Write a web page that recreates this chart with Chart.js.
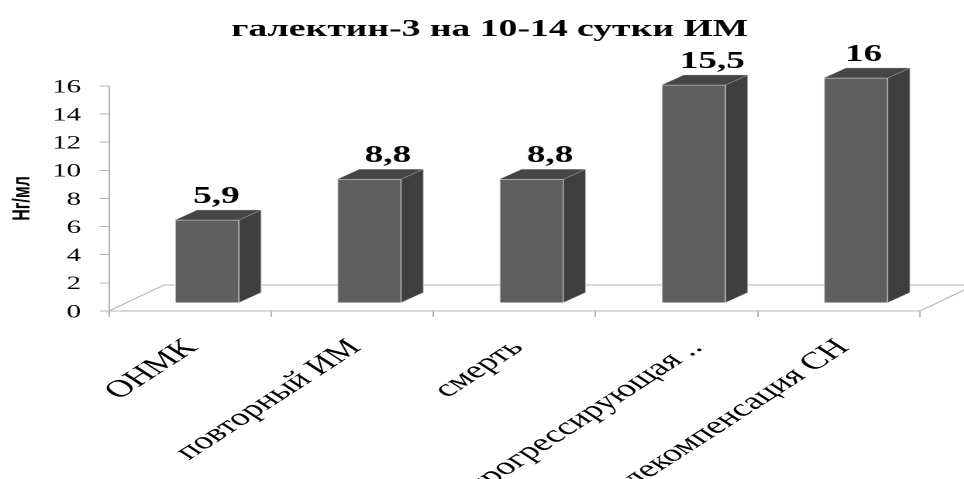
<!DOCTYPE html>
<html lang="ru">
<head>
<meta charset="utf-8">
<title>галектин-3 на 10-14 сутки ИМ</title>
<script src="https://cdn.jsdelivr.net/npm/chart.js@4"></script>
<style>
    html, body { margin: 0; padding: 0; background: #fff; overflow: hidden; }
    /* the whole chart is wide-stretched, type included */
    #galectinChart { display: block; transform-origin: 0 0; transform: scaleX(1.55); }
</style>
</head>
<body>
<canvas id="galectinChart" width="622" height="479"></canvas>
<script>
const categories = ['ОНМК', 'повторный ИМ', 'смерть', 'прогрессирующая ..', 'декомпенсация СН'];
const galectinValues = [5.9, 8.8, 8.8, 15.5, 16];
const yTicks = [0, 2, 4, 6, 8, 10, 12, 14, 16];

const serif = '"Liberation Serif", "Times New Roman", serif';
const axisGrey = '#b4b4b4';

// Fake 3D: bars sit a bit up and to the right of the axis, with side and top faces added
const barLift = { x: 11, y: -8 };
const barDepth = { x: 14.2, y: -10 };
const floorDepth = { x: 35.5, y: -26 };
const labelNudge = [6, 12, 12, 12, 5];
const categoryNudge = [1, 2, 2, 13, 3];

const box3d = {
    id: 'box3d',
    beforeDatasetsDraw(chart) {
        const ctx = chart.ctx;
        const area = chart.chartArea;
        const bottom = chart.scales.y.getPixelForValue(0);

        // floor of the plot
        ctx.save();
        ctx.strokeStyle = axisGrey;
        ctx.lineWidth = 1;
        ctx.beginPath();
        ctx.moveTo(area.left, bottom);
        ctx.lineTo(area.left + floorDepth.x, bottom + floorDepth.y);
        ctx.lineTo(area.right + floorDepth.x, bottom + floorDepth.y);
        ctx.lineTo(area.right, bottom);
        ctx.stroke();
        ctx.restore();

        ctx.save();
        ctx.translate(barLift.x, barLift.y);
    },
    afterDatasetsDraw(chart) {
        const ctx = chart.ctx;
        const bars = chart.getDatasetMeta(0).data;

        bars.forEach(bar => {
            const left = bar.x - bar.width / 2;
            const right = bar.x + bar.width / 2;
            const dx = barDepth.x;
            const dy = barDepth.y;

            ctx.lineWidth = 0.4;
            ctx.strokeStyle = '#b8b8b8';

            // side face
            ctx.fillStyle = '#3f3f3f';
            ctx.beginPath();
            ctx.moveTo(right, bar.y);
            ctx.lineTo(right + dx, bar.y + dy);
            ctx.lineTo(right + dx, bar.base + dy);
            ctx.lineTo(right, bar.base);
            ctx.closePath();
            ctx.fill();
            ctx.stroke();

            // top face
            ctx.fillStyle = '#464646';
            ctx.beginPath();
            ctx.moveTo(left, bar.y);
            ctx.lineTo(left + dx, bar.y + dy);
            ctx.lineTo(right + dx, bar.y + dy);
            ctx.lineTo(right, bar.y);
            ctx.closePath();
            ctx.fill();
            ctx.stroke();
        });
        ctx.restore();

        // value labels above the boxes, with a decimal comma
        ctx.save();
        ctx.fillStyle = '#000';
        ctx.font = 'bold 24px ' + serif;
        ctx.textAlign = 'center';
        ctx.textBaseline = 'alphabetic';
        bars.forEach((bar, i) => {
            const text = String(galectinValues[i]).replace('.', ',');
            ctx.fillText(text, bar.x + barLift.x + labelNudge[i], bar.y + barLift.y + barDepth.y - 7);
        });
        ctx.restore();

        // slanted category names, each one placed under its own tick
        const xScale = chart.scales.x;
        ctx.save();
        ctx.fillStyle = '#000';
        ctx.font = '24.3px ' + serif;
        ctx.textAlign = 'right';
        ctx.textBaseline = 'middle';
        categories.forEach((name, i) => {
            ctx.save();
            ctx.translate(xScale.getPixelForTick(i) + categoryNudge[i], xScale.top + 33);
            ctx.rotate(-45 * Math.PI / 180);
            ctx.fillText(name, 0, 0);
            ctx.restore();
        });
        ctx.restore();
    }
};

new Chart(document.getElementById('galectinChart').getContext('2d'), {
    type: 'bar',
    data: {
        labels: categories,
        datasets: [{
            data: galectinValues,
            backgroundColor: '#5f5f5f',
            borderColor: '#c4c4c4',
            borderWidth: 0.5,
            barPercentage: 0.394,
            categoryPercentage: 1
        }]
    },
    options: {
        responsive: false,
        devicePixelRatio: 2,
        animation: false,
        layout: { padding: { left: 10 } },
        plugins: {
            legend: { display: false },
            tooltip: { enabled: false },
            title: {
                display: true,
                text: 'галектин-3 на 10-14 сутки ИМ',
                color: '#000',
                font: { family: serif, size: 24.3, weight: 'bold' },
                padding: { top: 15, bottom: 41.8 }
            }
        },
        scales: {
            x: {
                afterFit(scale) {
                    scale.height = 168;
                    scale.paddingLeft = 0;
                    scale.paddingRight = 28.5;
                },
                border: { color: axisGrey },
                grid: { color: axisGrey, drawOnChartArea: false, tickLength: 6 },
                ticks: { display: false }
            },
            y: {
                min: 0,
                max: 16,
                afterFit(scale) {
                    scale.width = 60.3;
                },
                afterBuildTicks(scale) {
                    scale.ticks = yTicks.map(value => ({ value }));
                },
                border: { color: axisGrey },
                grid: { color: axisGrey, drawOnChartArea: false, tickLength: 6 },
                title: {
                    display: true,
                    text: 'Нг/мл',
                    color: '#000',
                    padding: { top: -5, bottom: 0 },
                    font: { family: '"Liberation Sans", Arial, sans-serif', size: 16, weight: 'bold' }
                },
                ticks: {
                    padding: 12,
                    labelOffset: 1.5,
                    color: '#000',
                    font: { family: serif, size: 18.5 }
                }
            }
        }
    },
    plugins: [box3d]
});
</script>
</body>
</html>
